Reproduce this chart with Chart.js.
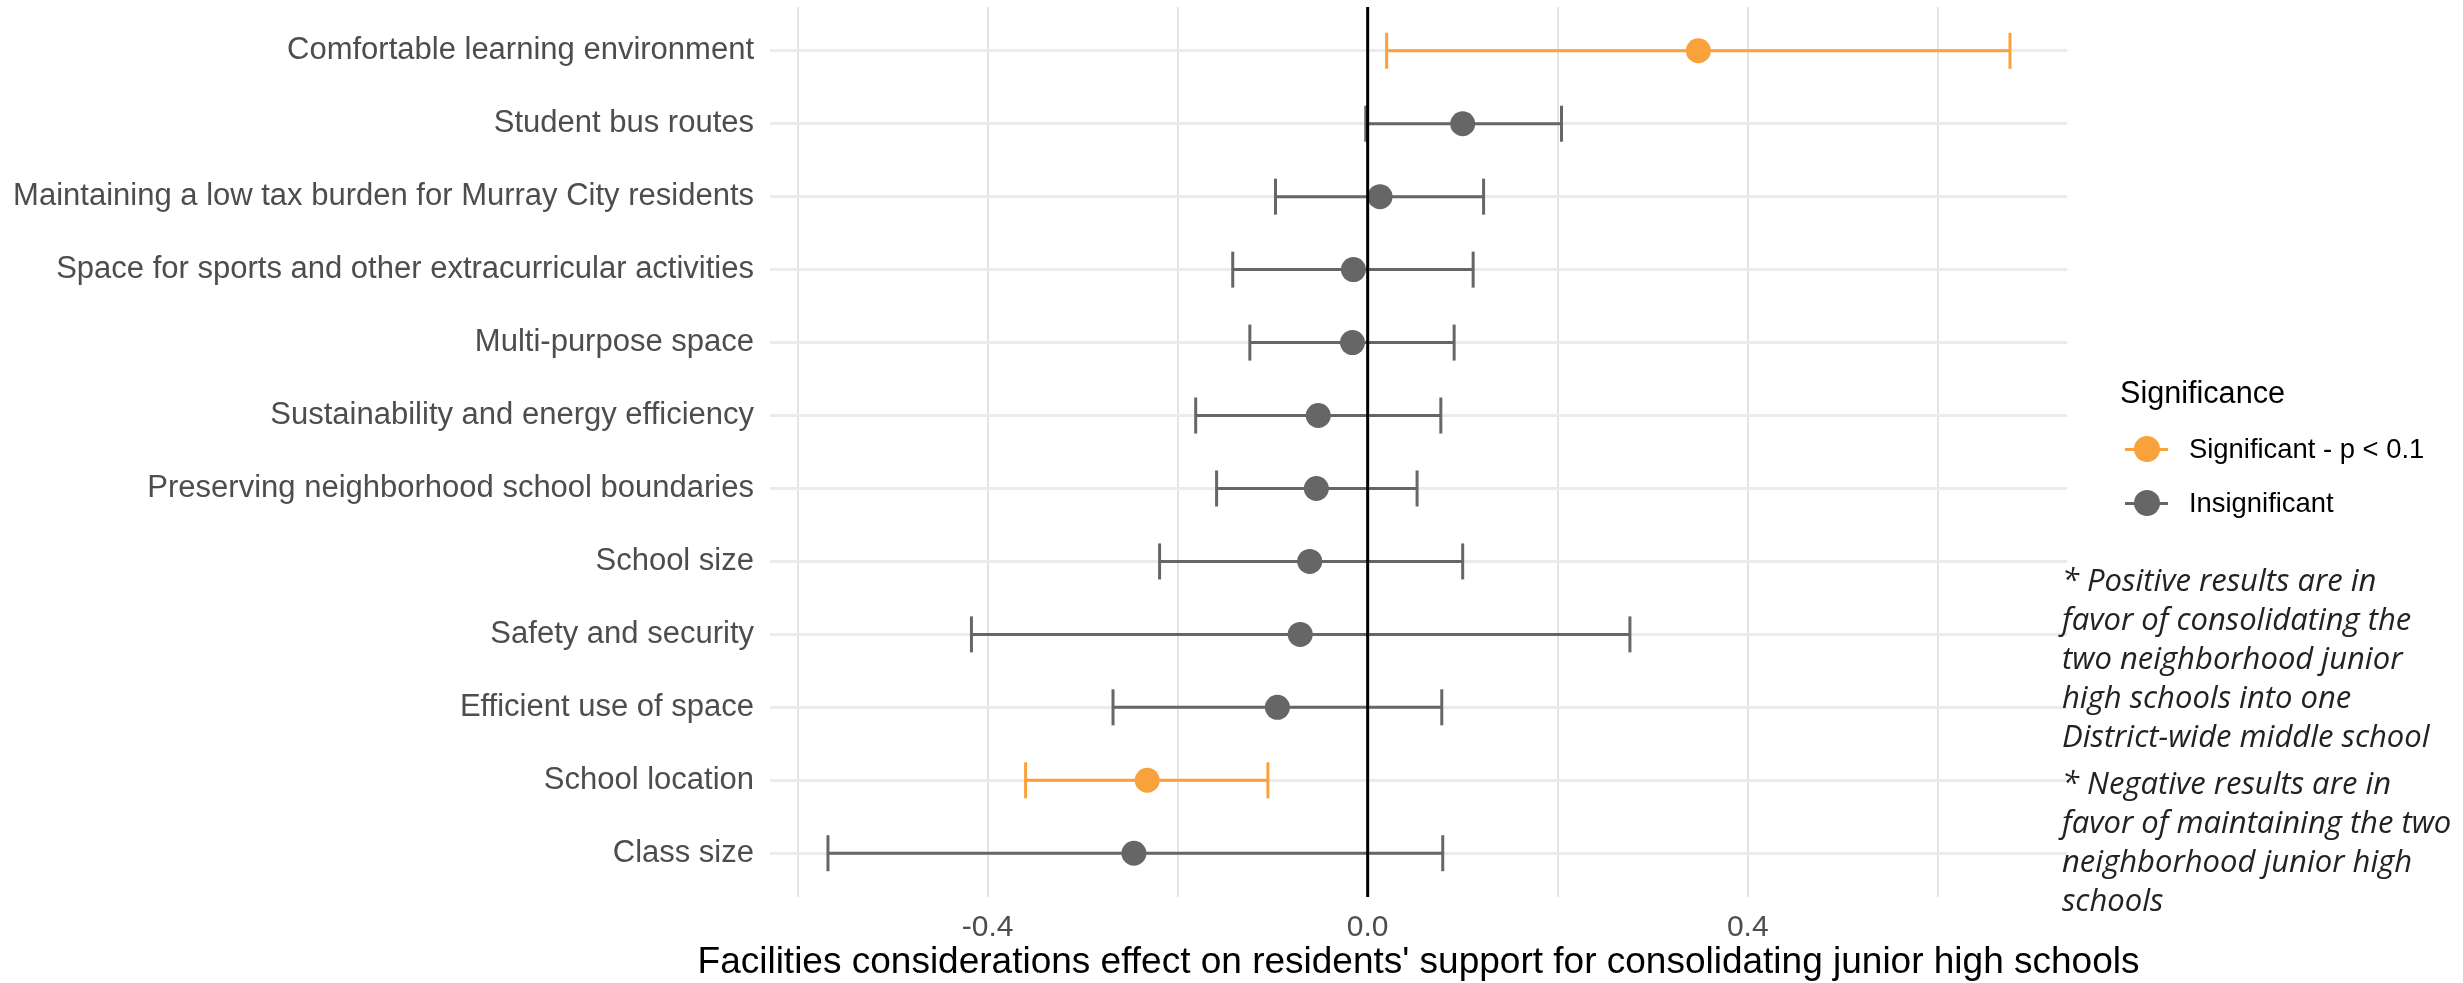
<!DOCTYPE html>
<html>
<head>
<meta charset="utf-8">
<script src="https://cdn.jsdelivr.net/npm/chart.js@4.4.1/dist/chart.umd.min.js"></script>
<style>
  html, body { margin: 0; padding: 0; background: #fff; }
  #wrap { position: relative; width: 2463px; height: 983px; overflow: hidden; }
  #effectChart { position: absolute; left: 0; top: 0; }
  .legend { position: absolute; left: 2120px; top: 371px; font-family: "Liberation Sans", Arial, sans-serif; color: #000; }
  .legend .title { font-size: 30.6px; line-height: 42px; height: 42px; margin-bottom: 9px; }
  .legend .item { position: relative; height: 54px; font-size: 27.4px; line-height: 54px; padding-left: 69px; }
  .legend .item .bar { position: absolute; left: 5px; top: 25.5px; width: 43px; height: 3px; }
  .legend .item .dot { position: absolute; left: 13.5px; top: 14px; width: 26px; height: 26px; border-radius: 50%; }
  .notes { position: absolute; left: 2062px; top: 560px; font-family: "Open Sans", sans-serif; font-style: italic; font-weight: 400; font-size: 31px; line-height: 39px; color: #222; white-space: nowrap; }
  .notes p { margin: 0 0 8px 0; }
</style>
</head>
<body>
<div id="wrap">
  <canvas id="effectChart" width="2463" height="983"></canvas>
  <div class="legend">
    <div class="title">Significance</div>
    <div class="item"><span class="bar" style="background:#f9a13a"></span><span class="dot" style="background:#f9a13a"></span>Significant - p &lt; 0.1</div>
    <div class="item"><span class="bar" style="background:#666666"></span><span class="dot" style="background:#666666"></span>Insignificant</div>
  </div>
  <div class="notes">
    <p>* Positive results are in<br>favor of consolidating the<br>two neighborhood junior<br>high schools into one<br>District-wide middle school</p>
    <p>* Negative results are in<br>favor of maintaining the two<br>neighborhood junior high<br>schools</p>
  </div>
</div>
<script>
const categories = [
  'Comfortable learning environment',
  'Student bus routes',
  'Maintaining a low tax burden for Murray City residents',
  'Space for sports and other extracurricular activities',
  'Multi-purpose space',
  'Sustainability and energy efficiency',
  'Preserving neighborhood school boundaries',
  'School size',
  'Safety and security',
  'Efficient use of space',
  'School location',
  'Class size'
];
const estimates = [0.348, 0.100, 0.013, -0.015, -0.016, -0.052, -0.054, -0.061, -0.071, -0.095, -0.232, -0.246];
const lowerCI = [0.020, -0.002, -0.097, -0.142, -0.124, -0.181, -0.159, -0.219, -0.417, -0.268, -0.360, -0.568];
const upperCI = [0.676, 0.204, 0.122, 0.111, 0.091, 0.077, 0.052, 0.100, 0.276, 0.078, -0.105, 0.079];
const significant = [true, false, false, false, false, false, false, false, false, false, true, false];
const gridTicks = [-0.6, -0.4, -0.2, 0, 0.2, 0.4, 0.6];
const labelTicks = [-0.4, 0, 0.4];
const xTitle = "Facilities considerations effect on residents' support for consolidating junior high schools";

const orange = '#f9a13a';
const grey = '#666666';
const colorOf = i => significant[i] ? orange : grey;

// one line per row for the confidence interval
const whiskers = categories.map((c, i) => ({
  label: 'ci-' + i,
  data: [{x: lowerCI[i], y: i}, {x: upperCI[i], y: i}],
  showLine: true,
  borderColor: colorOf(i),
  borderWidth: 3,
  pointRadius: 0,
  order: 2
}));

const caps = {
  label: 'caps',
  data: categories.flatMap((c, i) => [{x: lowerCI[i], y: i}, {x: upperCI[i], y: i}]),
  pointStyle: 'line',
  rotation: 90,
  radius: 18,
  borderWidth: 3,
  borderColor: categories.flatMap((c, i) => [colorOf(i), colorOf(i)]),
  order: 1
};

const points = {
  label: 'estimate',
  data: estimates.map((v, i) => ({x: v, y: i})),
  pointRadius: 12.5,
  backgroundColor: categories.map((c, i) => colorOf(i)),
  borderWidth: 0,
  order: 0
};

// black reference line at zero, drawn on top of the intervals
const zeroLine = {
  id: 'zeroLine',
  afterDatasetsDraw(chart) {
    const {ctx, chartArea, scales} = chart;
    const x = scales.x.getPixelForValue(0);
    ctx.save();
    ctx.strokeStyle = '#000';
    ctx.lineWidth = 3;
    ctx.beginPath();
    ctx.moveTo(x, chartArea.top);
    ctx.lineTo(x, chartArea.bottom);
    ctx.stroke();
    ctx.restore();
  }
};

// axis title wider than the panel, so draw it without the scale's maxWidth squeeze
const axisTitle = {
  id: 'axisTitle',
  afterDraw(chart) {
    const {ctx, chartArea} = chart;
    ctx.save();
    ctx.fillStyle = '#000';
    ctx.font = '37px "Liberation Sans"';
    ctx.textAlign = 'center';
    ctx.textBaseline = 'middle';
    ctx.fillText(xTitle, (chartArea.left + chartArea.right) / 2, 963);
    ctx.restore();
  }
};

const noEdgePadding = scale => {
  scale.paddingTop = 0;
  scale.paddingBottom = 0;
  scale.paddingLeft = 0;
  scale.paddingRight = 0;
};

const effectChart = new Chart(document.getElementById('effectChart'), {
  type: 'scatter',
  data: { datasets: [points, caps, ...whiskers] },
  plugins: [zeroLine, axisTitle],
  options: {
    responsive: false,
    animation: false,
    devicePixelRatio: 1,
    layout: { autoPadding: false, padding: { top: 7, right: 396, left: 0, bottom: 0 } },
    plugins: {
      legend: { display: false },
      tooltip: { enabled: false }
    },
    scales: {
      x: {
        type: 'linear',
        min: -0.629,
        max: 0.736,
        afterBuildTicks: scale => { scale.ticks = gridTicks.map(v => ({value: v})); },
        afterFit: scale => { scale.height = 86; noEdgePadding(scale); },
        grid: { color: '#e4e4e4', lineWidth: 2, drawTicks: false },
        border: { display: false },
        ticks: {
          autoSkip: false,
          maxRotation: 0,
          padding: 13,
          color: '#4d4d4d',
          font: { family: 'Liberation Sans', size: 30 },
          callback: v => labelTicks.some(t => Math.abs(t - v) < 1e-9) ? v.toFixed(1) : ''
        }
      },
      y: {
        type: 'linear',
        reverse: true,
        min: -0.6,
        max: 11.6,
        afterBuildTicks: scale => { scale.ticks = categories.map((c, i) => ({value: i})); },
        afterFit: scale => { scale.width = 770; noEdgePadding(scale); },
        grid: { color: '#ebebeb', lineWidth: 3, drawTicks: false },
        border: { display: false },
        ticks: {
          autoSkip: false,
          padding: 16,
          color: '#4d4d4d',
          font: { family: 'Liberation Sans', size: 31 },
          callback: v => categories[v]
        }
      }
    }
  }
});
</script>
</body>
</html>
